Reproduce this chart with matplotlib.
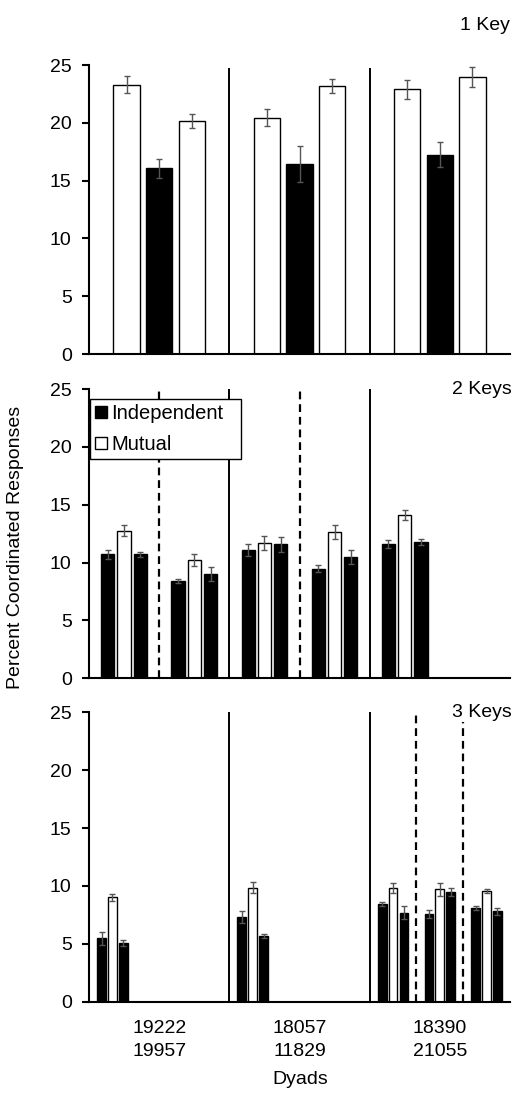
"""Percent coordinated responses per dyad, 1/2/3 keys -> out.png."""
import matplotlib
matplotlib.use("Agg")
import matplotlib.pyplot as plt
from matplotlib.patches import Patch

plt.rcParams["font.family"] = ["Liberation Sans", "DejaVu Sans"]
plt.rcParams["font.size"] = 14

dyads = ["19222\n19957", "18057\n11829", "18390\n21055"]
panel_titles = ["1 Key", "2 Keys", "3 Keys"]

# 1 key: each dyad has one condition, bars are Mutual / Independent / Mutual
key1_kind = ["M", "I", "M"]
key1_vals = [[[23.3, 16.05, 20.15]],
             [[20.45, 16.4, 23.2]],
             [[22.9, 17.25, 24.0]]]
key1_err = [[[0.75, 0.85, 0.57]],
            [[0.72, 1.55, 0.6]],
            [[0.8, 1.05, 0.86]]]

# 2 keys: bars are Independent / Mutual / Independent
key2_kind = ["I", "M", "I"]
key2_vals = [[[10.72, 12.76, 10.72], [8.41, 10.2, 8.99]],
             [[11.09, 11.72, 11.58], [9.47, 12.64, 10.51]],
             [[11.63, 14.14, 11.78]]]
key2_err = [[[0.37, 0.47, 0.2], [0.2, 0.5, 0.6]],
            [[0.53, 0.6, 0.65], [0.28, 0.6, 0.6]],
            [[0.35, 0.43, 0.25]]]

# 3 keys
key3_kind = ["I", "M", "I"]
key3_vals = [[[5.47, 9.02, 5.07]],
             [[7.34, 9.85, 5.68]],
             [[8.44, 9.82, 7.69], [7.58, 9.71, 9.5], [8.12, 9.56, 7.83]]]
key3_err = [[[0.53, 0.3, 0.22]],
            [[0.5, 0.5, 0.2]],
            [[0.18, 0.4, 0.55], [0.38, 0.55, 0.35], [0.18, 0.15, 0.3]]]

panels = [(key1_kind, key1_vals, key1_err, 1),
          (key2_kind, key2_vals, key2_err, 2),
          (key3_kind, key3_vals, key3_err, 3)]

W, H = 514, 1093
fig = plt.figure(figsize=(W / 100, H / 100), dpi=100)

# axes boxes in pixels: (bottom, top)
boxes = [(354, 65), (678.3, 389), (1001.7, 712.3)]
left, right = 89, 510

ERR_COL = "#555555"

for i, ((kind, vals, errs, nsub), (bot, top)) in enumerate(zip(panels, boxes)):
    ax = fig.add_axes([left / W, 1 - bot / H, (right - left) / W, (bot - top) / H])
    sw = 1.0 / nsub
    for g, subs in enumerate(vals):
        for s, sv in enumerate(subs):
            c = g + (s + 0.5) * sw
            for b, (v, e) in enumerate(zip(sv, errs[g][s])):
                x = c + (b - 1) * 0.232 * sw
                fc = "black" if kind[b] == "I" else "white"
                ax.bar(x, v, width=0.188 * sw, color=fc, edgecolor="black",
                       linewidth=1.0, zorder=2)
                ax.errorbar(x, v, yerr=e, fmt="none", ecolor=ERR_COL,
                            elinewidth=1.0, capsize=2.5, capthick=1.0, zorder=3)
    # dyad separators
    for xs in (1, 2):
        ax.axvline(xs, ymin=0, ymax=0.985 if i == 0 else 1.0,
                   color="black", lw=1.4, zorder=1)
    # condition separators (dashed)
    if nsub > 1:
        for g, subs in enumerate(vals):
            for s in range(1, len(subs)):
                ax.axvline(g + s * sw, color="black", lw=1.6,
                           ls=(0, (3.5, 2.2)), zorder=1)

    ax.set_xlim(0, 3)
    ax.set_ylim(0, 25)
    ax.set_yticks([0, 5, 10, 15, 20, 25])
    for sp in ("top", "right"):
        ax.spines[sp].set_visible(False)
    for sp in ("left", "bottom"):
        ax.spines[sp].set_linewidth(1.5)
        ax.spines[sp].set_zorder(4)
    ax.tick_params(axis="y", direction="out", length=5, width=1.5, pad=7.5,
                   labelsize=14)
    ax.tick_params(axis="x", length=0, pad=13.5, labelsize=14)
    ax.set_xticks([0.5, 1.5, 2.5])
    if i == 2:
        ax.set_xticklabels(dyads, linespacing=1.4)
    else:
        ax.set_xticklabels([])

    if i == 0:
        ax.text(1.0, 1.138, panel_titles[i], transform=ax.transAxes,
                ha="right", va="center", fontsize=14)
    else:
        ax.text(1.005, 1.0, panel_titles[i], transform=ax.transAxes,
                ha="right", va="center", fontsize=14, zorder=6,
                bbox=dict(facecolor="white", edgecolor="none", pad=1))

    if i == 1:
        handles = [Patch(facecolor="black", edgecolor="black", label="Independent"),
                   Patch(facecolor="white", edgecolor="black", label="Mutual")]
        leg = ax.legend(handles=handles, loc="upper left", mode="expand",
                        bbox_to_anchor=(0.002, 0.9654 - 0.21, 0.358, 0.21),
                        fontsize=14.5, frameon=True, fancybox=False,
                        framealpha=1, edgecolor="black", handlelength=0.6,
                        handleheight=0.6, handletextpad=0.2, borderpad=0.25,
                        labelspacing=0.6, borderaxespad=0)
        leg.get_frame().set_linewidth(1.0)
        leg.set_zorder(7)

fig.text(15.5 / W, 1 - 547 / H, "Percent Coordinated Responses",
         rotation=90, ha="center", va="center", fontsize=14)
fig.text(300 / W, 1 - 1079 / H, "Dyads", ha="center", va="center", fontsize=14)

fig.savefig("out.png", dpi=100, facecolor="white")
